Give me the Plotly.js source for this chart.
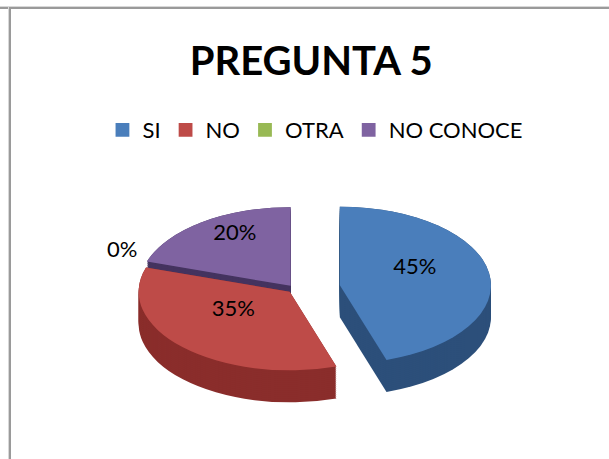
<!DOCTYPE html>
<html>
<head>
<meta charset="utf-8">
<script src="https://cdn.plot.ly/plotly-3.0.1.min.js"></script>
<style>
  html, body { margin: 0; padding: 0; background: #fff; }
  #wrap { position: relative; width: 609px; height: 459px; overflow: hidden; }
  #chart { position: absolute; left: 0; top: 0; width: 609px; height: 459px; }
  .hline { position: absolute; left: 0; top: 6px; width: 609px; height: 2px; background: #9a9a9a; border-top: 1px solid #d8d8d8; }
  .vline { position: absolute; left: 8px; top: 7px; width: 2px; height: 452px; background: #9a9a9a; border-left: 1px solid #d8d8d8; }
</style>
</head>
<body>
<div id="wrap">
  <div id="chart"></div>
  <div class="hline"></div>
  <div class="vline"></div>
</div>
<script>
// ---- data ----
const chartTitle = "PREGUNTA 5";
const categories = ["SI", "NO", "OTRA", "NO CONOCE"];
const percentages = [45, 35, 0, 20];

// ---- styles ----
const topColors  = ["#4a7ebb", "#be4b48", "#98b954", "#7f63a1"];
const sideColors = ["#2c4f7a", "#8a2d2b", "#44632a", "#44335f"];
const pulls = [0.3, 0.05, 0.05, 0.05];
const domainX = [0.162, 0.807];
const depthPx = 32;
const depthStep = 2;
const squashY = 0.52;
const targetCy = 289;
const labelLift = 10;
const fontFam = "Lato, 'Open Sans', sans-serif";

const traces = [];
for (let d = depthPx; d >= 0; d -= depthStep) {
  traces.push({
    type: "pie",
    labels: categories,
    values: percentages,
    sort: false,
    direction: "clockwise",
    rotation: 0,
    pull: pulls,
    marker: { colors: sideColors, line: { width: 0 } },
    textinfo: "none",
    hoverinfo: "skip",
    showlegend: false,
    domain: { x: domainX, y: [0, 1] },
    meta: { depth: d }
  });
}
traces.push({
  type: "pie",
  labels: categories,
  values: percentages,
  sort: false,
  direction: "clockwise",
  rotation: 0,
  pull: pulls,
  marker: { colors: topColors, line: { width: 0 } },
  textinfo: "percent",
  texttemplate: "%{value}%",
  textposition: ["inside", "inside", "outside", "inside"],
  insidetextorientation: "horizontal",
  insidetextfont: { family: fontFam, size: 22, color: "#000" },
  outsidetextfont: { family: fontFam, size: 22, color: "#000" },
  hoverinfo: "label+percent",
  showlegend: true,
  domain: { x: domainX, y: [0, 1] },
  meta: { depth: 0, main: true }
});

const layout = {
  width: 609,
  height: 459,
  margin: { l: 0, r: 0, t: 0, b: 0 },
  paper_bgcolor: "#ffffff",
  font: { family: fontFam, color: "#000" },
  title: {
    text: "<b>" + chartTitle + "</b>",
    font: { family: fontFam, size: 40, color: "#000" },
    x: 0.511, xanchor: "center", xref: "container",
    y: 1 - 61 / 459, yanchor: "middle", yref: "container"
  },
  legend: {
    orientation: "h",
    x: 0.518, xanchor: "center",
    y: 1 - 130 / 459, yanchor: "middle",
    font: { family: fontFam, size: 22, color: "#000" },
    itemwidth: 30,
    traceorder: "normal"
  },
  showlegend: true
};

Plotly.newPlot("chart", traces, layout, { staticPlot: true }).then(function (gd) {
  const traceGroups = gd.querySelectorAll("g.pielayer g.trace");
  traceGroups.forEach(function (g, i) {
    const cd0 = gd.calcdata[i][0];
    const cy = cd0.cy;
    const d = gd._fullData[i].meta.depth;
    g.setAttribute("transform",
      "translate(0," + (targetCy + d) + ") scale(1," + squashY + ") translate(0," + (-cy) + ")");
  });
  // keep the label glyphs unsquashed
  const k = 1 / squashY;
  const lift = "translate(0," + (-labelLift / squashY) + ") ";
  gd.querySelectorAll("g.pielayer g.slicetext").forEach(function (st) {
    const el = st.getAttribute("transform") ? st : st.querySelector("text");
    if (!el) return;
    const t = el.getAttribute("transform") || "";
    if (/^\s*translate\([^)]*\)/.test(t)) {
      el.setAttribute("transform", lift + t.replace(/^\s*(translate\([^)]*\))/, "$1 scale(1," + k + ")"));
    } else {
      el.setAttribute("transform", lift + t + " scale(1," + k + ")");
    }
  });
  // slightly larger legend swatches
  gd.querySelectorAll("g.legend g.legendpoints path").forEach(function (p) {
    const t = p.getAttribute("transform") || "";
    p.setAttribute("transform", t + " scale(1.15)");
  });
});
</script>
</body>
</html>
